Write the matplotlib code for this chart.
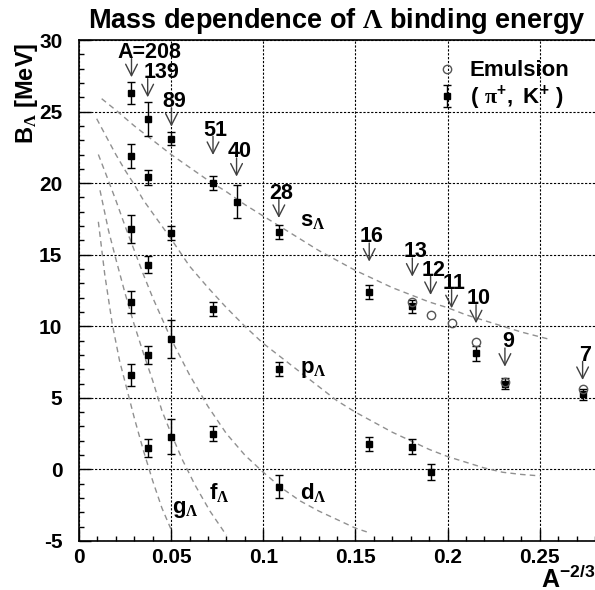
import numpy as np
import matplotlib.pyplot as plt
from matplotlib.ticker import MultipleLocator, FixedLocator

plt.rcParams['font.family'] = ['Liberation Sans', 'DejaVu Sans']
plt.rcParams['font.weight'] = 'bold'
plt.rcParams['axes.unicode_minus'] = False
plt.rcParams['mathtext.fontset'] = 'custom'
plt.rcParams['mathtext.rm'] = 'Liberation Serif'
plt.rcParams['mathtext.bf'] = 'Liberation Sans:bold'
plt.rcParams['mathtext.it'] = 'Liberation Sans:italic'

# (pi+, K+) data: mass number, binding energy, error
pk_A = [208, 208, 208, 208, 208,
        139, 139, 139, 139, 139,
        89, 89, 89, 89,
        51, 51, 51,
        40,
        28, 28, 28,
        16, 16,
        13, 13,
        12, 10, 9, 7]
pk_B = [26.3, 21.9, 16.8, 11.7, 6.6,
        24.5, 20.4, 14.3, 8.0, 1.5,
        23.1, 16.5, 9.1, 2.3,
        20.0, 11.2, 2.5,
        18.7,
        16.6, 7.0, -1.2,
        12.4, 1.8,
        11.4, 1.6,
        -0.2, 8.1, 6.0, 5.25]
pk_err = [0.8, 0.85, 1.0, 0.8, 0.8,
          1.2, 0.55, 0.6, 0.6, 0.6,
          0.45, 0.5, 1.35, 1.2,
          0.5, 0.5, 0.5,
          1.15,
          0.5, 0.5, 0.8,
          0.5, 0.5,
          0.45, 0.5,
          0.55, 0.5, 0.4, 0.4]

# emulsion data
em_A = [13, 12, 11, 10, 9, 7]
em_B = [11.7, 10.8, 10.2, 8.9, 6.1, 5.6]

# arrows with nucleus labels
arr_A = [208, 139, 89, 51, 40, 28, 16, 13, 12, 11, 10, 9, 7]
arr_lbl = ['A=208', '139', '89', '51', '40', '28', '16', '13', '12', '11', '10', '9', '7']
arr_tip = [27.4, 26.0, 23.95, 21.97, 20.46, 17.57, 14.52, 13.47, 12.19, 11.26, 10.21, 7.18, 6.25]

# theory curves
s_x = [0.0123, 0.020, 0.030, 0.040, 0.050, 0.060, 0.070, 0.080, 0.090, 0.100, 0.110, 0.120,
       0.130, 0.140, 0.150, 0.160, 0.170, 0.180, 0.190, 0.200, 0.210, 0.220, 0.230, 0.240, 0.255]
s_y = [25.9, 25.1, 24.0, 23.0, 22.0, 21.1, 20.2, 19.4, 18.5, 17.7, 16.9, 16.1,
       15.3, 14.6, 13.9, 13.3, 12.7, 12.2, 11.7, 11.3, 10.8, 10.4, 10.0, 9.6, 9.1]
p_x = [0.0096, 0.015, 0.020, 0.025, 0.030, 0.035, 0.040, 0.050, 0.060, 0.070, 0.080, 0.090,
       0.100, 0.110, 0.120, 0.130, 0.140, 0.150, 0.160, 0.170, 0.180, 0.190, 0.200, 0.210,
       0.220, 0.230, 0.240, 0.250]
p_y = [24.5, 23.2, 22.0, 20.9, 19.9, 18.8, 17.9, 16.1, 14.2, 12.7, 11.3, 10.0,
       8.8, 7.8, 6.8, 5.8, 4.8, 4.0, 3.3, 2.6, 2.0, 1.4, 0.9, 0.5,
       0.1, -0.2, -0.35, -0.45]
d_x = [0.0105, 0.015, 0.020, 0.025, 0.030, 0.035, 0.040, 0.050, 0.060, 0.070, 0.080, 0.090,
       0.100, 0.110, 0.120, 0.130, 0.140, 0.150, 0.157]
d_y = [22.0, 20.5, 18.8, 17.0, 15.3, 13.6, 12.0, 9.1, 6.6, 4.4, 2.5, 1.0,
       -0.2, -1.3, -2.2, -2.9, -3.5, -4.1, -4.4]
f_x = [0.0114, 0.016, 0.020, 0.025, 0.030, 0.035, 0.040, 0.045, 0.050, 0.056, 0.063, 0.071, 0.080]
f_y = [19.5, 16.7, 14.7, 12.3, 10.1, 8.1, 6.2, 4.1, 2.5, 0.7, -1.1, -2.9, -4.6]
g_x = [0.0105, 0.014, 0.018, 0.022, 0.026, 0.030, 0.035, 0.040, 0.045, 0.050]
g_y = [17.3, 13.6, 10.2, 7.6, 5.6, 3.6, 1.3, -0.8, -2.7, -4.2]

curve_lbl = ['s', 'p', 'd', 'f', 'g']
curve_lbl_x = [0.1198, 0.1201, 0.1201, 0.0705, 0.0504]
curve_lbl_y = [16.96, 6.76, -2.07, -2.07, -3.04]

pk_x = np.array(pk_A, dtype=float) ** (-2 / 3)
em_x = np.array(em_A, dtype=float) ** (-2 / 3)
arr_x = np.array(arr_A, dtype=float) ** (-2 / 3)

fig = plt.figure(figsize=(5.95, 5.9), dpi=100)
ax = fig.add_axes([79 / 595, 49 / 590, 516 / 595, 501 / 590])

dash = (0, (4, 3))
for cx, cy in [(s_x, s_y), (p_x, p_y), (d_x, d_y), (f_x, f_y), (g_x, g_y)]:
    ax.plot(cx, cy, color='#909090', lw=1.0, linestyle=dash, zorder=2)

ax.plot(em_x, em_B, 'o', mfc='none', mec='#555555', ms=6, mew=1.0, zorder=5, label='Emulsion')
ax.errorbar(pk_x, pk_B, yerr=pk_err, fmt='s', ms=5, color='black', ecolor='black',
            elinewidth=1, capsize=2.8, capthick=1, zorder=4,
            label=r'$\mathbf{(}\ \mathrm{\pi}^{\mathbf{+}}\mathbf{,\ K}^{\mathbf{+}}\mathbf{\ )}$')

arr_len = 1.3
for x, lbl, tip in zip(arr_x, arr_lbl, arr_tip):
    ax.annotate('', xy=(x, tip), xytext=(x, tip + arr_len),
                arrowprops=dict(arrowstyle='->,head_length=0.55,head_width=0.28',
                                color='#404040', lw=1.0, mutation_scale=15,
                                shrinkA=0, shrinkB=0))
    if lbl == 'A=208':
        dx = 13
    elif lbl == '139':
        dx = 10
    else:
        dx = 2
    ax.annotate(lbl, xy=(x, tip + arr_len), xytext=(dx, 0.5), textcoords='offset points',
                ha='center', va='baseline', fontsize=15.5, fontweight='bold')

for lbl, lx, ly in zip(curve_lbl, curve_lbl_x, curve_lbl_y):
    ax.text(lx, ly, r'$\mathbf{' + lbl + r'}_{\mathrm{\Lambda}}$', fontsize=16,
            ha='left', va='baseline')

ax.set_xlim(0, 0.28)
ax.set_ylim(-5, 30)
ax.xaxis.set_major_locator(FixedLocator([0, 0.05, 0.1, 0.15, 0.2, 0.25]))
ax.xaxis.set_minor_locator(MultipleLocator(0.01))
ax.yaxis.set_major_locator(MultipleLocator(5))
ax.yaxis.set_minor_locator(MultipleLocator(1))
ax.set_xticklabels(['0', '0.05', '0.1', '0.15', '0.2', '0.25'])
ax.tick_params(which='both', direction='in', top=False, right=False, width=1)
ax.tick_params(which='major', length=8.5)
ax.tick_params(which='minor', length=3.5)
ax.tick_params(axis='x', which='major', labelsize=15, pad=5)
ax.tick_params(axis='y', which='major', labelsize=15, pad=12)
ax.grid(True, which='major', color='black', lw=0.8, linestyle=(0, (2, 1.5)))
ax.spines['right'].set_visible(False)
for sp in ['left', 'bottom', 'top']:
    ax.spines[sp].set_linewidth(1.2)

ax.set_title(r'Mass dependence of $\mathrm{\Lambda}$ binding energy', fontsize=19.5,
             fontweight='bold', pad=9)
fig.text(27 / 595, 1 - 43 / 590, r'$\mathbf{B}_{\mathrm{\Lambda}}$ [MeV]', rotation=90,
         ha='center', va='top', fontsize=17, fontweight='bold')
fig.text(541 / 595, 2 / 590, r'$\mathbf{A}^{\mathbf{-2/3}}$', ha='left', va='baseline',
         fontsize=18)

ax.legend(loc='upper left', bbox_to_anchor=(0.675, 0.977), frameon=False,
          handlelength=1.0, handletextpad=0.5, labelspacing=0.1,
          borderaxespad=0, prop={'weight': 'bold', 'size': 16})

fig.savefig('out.png', dpi=100)
